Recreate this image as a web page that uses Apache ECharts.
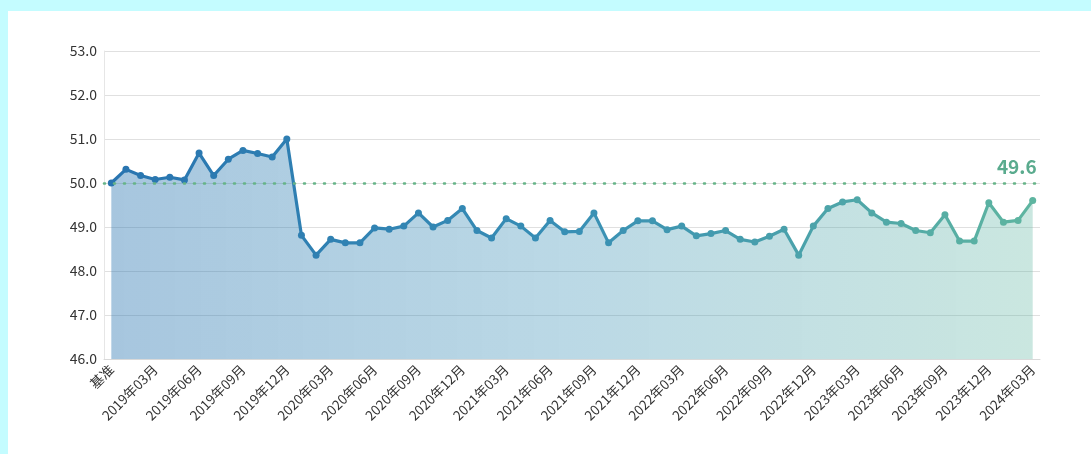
<!DOCTYPE html>
<html>
<head>
<meta charset="utf-8">
<script src="https://cdn.jsdelivr.net/npm/echarts@6/dist/echarts.min.js"></script>
<style>
  html, body { margin: 0; padding: 0; background: #c4fcff; width: 1091px; height: 454px; overflow: hidden; }
  #chart { position: absolute; left: 8px; top: 11px; width: 1083px; height: 443px; background: #ffffff; }
</style>
</head>
<body>
<div id="chart"></div>
<script>
// Monthly index, base period followed by 2019-01 .. 2024-03
const baseLabel = '基准';
const startYear = 2019, endYear = 2024, endMonth = 3;
const categories = [baseLabel];
for (let y = startYear; y <= endYear; y++) {
  for (let m = 1; m <= 12; m++) {
    if (y === endYear && m > endMonth) break;
    categories.push(y + '年' + String(m).padStart(2, '0') + '月');
  }
}

const values = [
  50.0,
  50.31, 50.17, 50.08, 50.13, 50.07, 50.68, 50.17, 50.54, 50.74, 50.67, 50.59, 51.0,
  48.81, 48.36, 48.72, 48.64, 48.64, 48.98, 48.95, 49.02, 49.32, 49.0, 49.15, 49.42,
  48.92, 48.75, 49.19, 49.02, 48.75, 49.15, 48.89, 48.9, 49.32, 48.64, 48.92, 49.14,
  49.14, 48.94, 49.02, 48.8, 48.85, 48.92, 48.72, 48.66, 48.79, 48.95, 48.36, 49.02,
  49.42, 49.57, 49.62, 49.32, 49.11, 49.08, 48.92, 48.87, 49.28, 48.68, 48.68, 49.55,
  49.11, 49.15, 49.6
];

const baseline = 50.0;
const yTicks = [46, 47, 48, 49, 50, 51, 52, 53];

// colour ramp along the x direction: blue -> teal
const ramp = [[0, [40, 116, 176]], [0.5, [56, 143, 181]], [1, [94, 181, 160]]];
function rampColor(t, alpha) {
  let i = 0;
  while (i < ramp.length - 2 && t > ramp[i + 1][0]) i++;
  const [t0, c0] = ramp[i], [t1, c1] = ramp[i + 1];
  const k = (t - t0) / (t1 - t0);
  const c = c0.map((v, j) => Math.round(v + (c1[j] - v) * k));
  return alpha == null ? `rgb(${c.join(',')})` : `rgba(${c.join(',')},${alpha})`;
}
const lineGrad = () => new echarts.graphic.LinearGradient(0, 0, 1, 0,
  ramp.map(([o]) => ({ offset: o, color: rampColor(o) })));

const chart = echarts.init(document.getElementById('chart'), null, { renderer: 'canvas' });
const font = '"Noto Sans CJK SC", "Noto Sans", sans-serif';
const lastIdx = values.length - 1;

chart.setOption({
  animation: false,
  grid: { left: 96, right: 51, top: 40, bottom: 95 },
  xAxis: {
    type: 'category',
    data: categories,
    boundaryGap: true,
    axisLine: { lineStyle: { color: '#d9d9d9' } },
    axisTick: { interval: 2, lineStyle: { color: '#d9d9d9' } },
    axisLabel: { interval: 2, rotate: 45, color: '#333', fontSize: 13.5, fontFamily: font, margin: 8 }
  },
  yAxis: {
    type: 'value',
    min: yTicks[0],
    max: yTicks[yTicks.length - 1],
    interval: 1,
    axisLine: { show: true, lineStyle: { color: '#e6e6e6' } },
    axisTick: { show: false },
    axisLabel: { color: '#333', fontSize: 14, fontFamily: font, margin: 7, formatter: v => v.toFixed(1) },
    splitLine: { lineStyle: { color: '#e0e0e0' } }
  },
  series: [{
    type: 'line',
    data: values,
    symbol: 'circle',
    symbolSize: 7,
    lineStyle: { width: 3.2, color: lineGrad() },
    itemStyle: {
      color: p => rampColor(p.dataIndex / lastIdx)
    },
    areaStyle: {
      opacity: 1,
      color: new echarts.graphic.LinearGradient(0, 0, 1, 0, [
        { offset: 0, color: rampColor(0, 0.41) },
        { offset: 0.5, color: rampColor(0.5, 0.34) },
        { offset: 1, color: rampColor(1, 0.33) }
      ])
    },
    markLine: {
      silent: true,
      symbol: 'none',
      label: { show: false },
      lineStyle: { color: '#66b487', width: 2.6, type: [1, 9], cap: 'round' },
      data: [{ yAxis: baseline }]
    },
    markPoint: {
      symbol: 'circle',
      symbolSize: 1,
      itemStyle: { color: 'rgba(0,0,0,0)' },
      label: {
        show: true,
        position: 'top',
        align: 'right',
        distance: 24,
        offset: [4, 0],
        color: '#5aab8e',
        fontSize: 19,
        fontWeight: 'bold',
        fontFamily: font,
        formatter: p => p.value.toFixed(1)
      },
      data: [{ coord: [lastIdx, values[lastIdx]], value: values[lastIdx] }]
    }
  }]
});
</script>
</body>
</html>
